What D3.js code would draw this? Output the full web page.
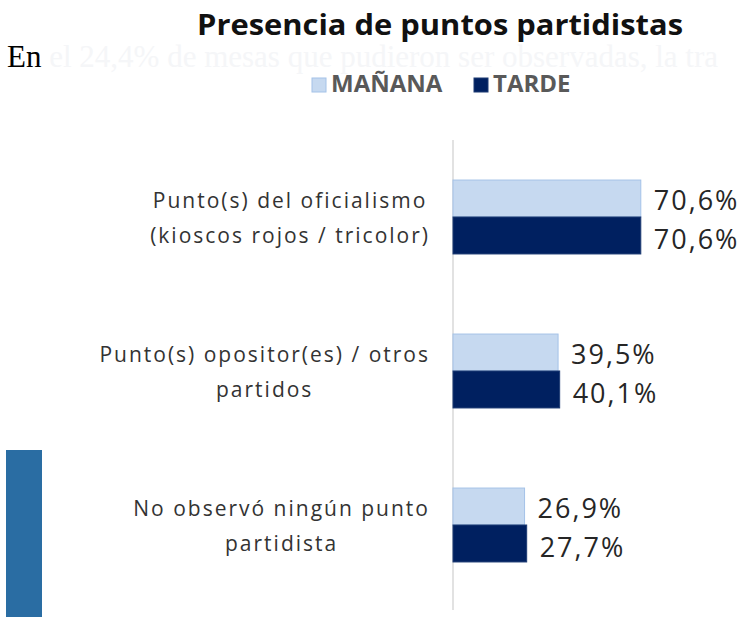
<!DOCTYPE html>
<html>
<head>
<meta charset="utf-8">
<script src="https://cdn.jsdelivr.net/npm/d3@7"></script>
<style>
  html, body { margin: 0; padding: 0; background: #fff; }
  svg { display: block; }
</style>
</head>
<body>
<svg id="chart" width="742" height="617"></svg>
<script>
// Categories, each split into the lines it is printed on
const categories = [
  ["Punto(s) del oficialismo", "(kioscos rojos / tricolor)"],
  ["Punto(s) opositor(es) / otros", "partidos"],
  ["No observó ningún punto", "partidista"]
];
const seriesNames = ["MAÑANA", "TARDE"];
const manana = [70.6, 39.5, 26.9];
const tarde  = [70.6, 40.1, 27.7];
const colors = ["#c6d9f0", "#002060"];
const strokes = ["#a4c2e8", "#1d3b73"];

const fmt = v => d3.format(".1f")(v).replace(".", ",") + "%";

const svg = d3.select("#chart");

// Surrounding page text running across the top
const lead = svg.append("text")
  .attr("x", 7).attr("y", 67)
  .attr("font-family", "Liberation Serif, Times New Roman, serif")
  .attr("font-size", 31);
lead.append("tspan").attr("fill", "#000").text("En ");
lead.append("tspan").attr("fill", "#f5f6f8")
  .text("el 24,4% de mesas que pudieron ser observadas, la tra");

// Side decoration block
svg.append("rect")
  .attr("x", 6).attr("y", 450).attr("width", 36).attr("height", 167)
  .attr("fill", "#2a6da3");

// Title
svg.append("text")
  .attr("x", 197).attr("y", 35)
  .attr("font-family", "Open Sans, sans-serif")
  .attr("font-weight", 700)
  .attr("font-size", 29)
  .attr("textLength", 486)
  .attr("lengthAdjust", "spacingAndGlyphs")
  .attr("fill", "#111")
  .text("Presencia de puntos partidistas");

// Legend
const legend = svg.append("g").attr("font-family", "Open Sans, sans-serif")
  .attr("font-weight", 700).attr("font-size", 24).attr("fill", "#595959");
const legendX = [312, 474];
seriesNames.forEach((name, i) => {
  legend.append("rect")
    .attr("x", legendX[i]).attr("y", 78).attr("width", 14).attr("height", 14)
    .attr("fill", colors[i]).attr("stroke", strokes[i]).attr("stroke-width", 1);
  legend.append("text")
    .attr("x", legendX[i] + 19).attr("y", 92)
    .text(name);
});

// Scales
const x = d3.scaleLinear().domain([0, 100]).range([453, 719]);
const y0 = d3.scaleBand()
  .domain(d3.range(categories.length))
  .range([140, 602])
  .paddingInner(0.52)
  .paddingOuter(0.26);
const y1 = d3.scaleBand().domain([0, 1]).range([0, y0.bandwidth()]);

// Vertical category axis line
svg.append("line")
  .attr("x1", x(0)).attr("x2", x(0))
  .attr("y1", 140).attr("y2", 610)
  .attr("stroke", "#d9d9d9").attr("stroke-width", 1.5);

const series = [manana, tarde];
const groups = svg.append("g").selectAll("g")
  .data(categories.map((c, i) => i))
  .join("g")
  .attr("transform", i => `translate(0,${y0(i)})`);

groups.each(function(ci) {
  const g = d3.select(this);
  series.forEach((vals, si) => {
    g.append("rect")
      .attr("x", x(0))
      .attr("y", y1(si))
      .attr("width", x(vals[ci]) - x(0))
      .attr("height", y1.bandwidth())
      .attr("fill", colors[si])
      .attr("stroke", strokes[si]).attr("stroke-width", 1);
    g.append("text")
      .attr("x", x(vals[ci]) + 13)
      .attr("y", y1(si) + y1.bandwidth() / 2 + (si === 0 ? 1 : 3))
      .attr("dominant-baseline", "central")
      .attr("font-family", "Open Sans, sans-serif")
      .attr("font-size", 27)
      .attr("letter-spacing", 2)
      .attr("fill", "#262626")
      .text(fmt(vals[ci]));
  });
});

// Category labels: lines centered within their block, block right-aligned to the axis
const labelRight = 430;
const lineGap = 35;
categories.forEach((lines, ci) => {
  const cy = y0(ci) + y0.bandwidth() / 2;
  const t = svg.append("g")
    .attr("font-family", "Open Sans, sans-serif")
    .attr("font-size", 21)
    .attr("letter-spacing", 2)
    .attr("fill", "#333");
  const nodes = lines.map((ln, li) => t.append("text")
    .attr("y", cy + (li - (lines.length - 1) / 2) * lineGap)
    .attr("dominant-baseline", "central")
    .attr("text-anchor", "middle")
    .text(ln));
  const maxW = d3.max(nodes, n => n.node().getComputedTextLength());
  nodes.forEach(n => n.attr("x", labelRight - maxW / 2));
});
</script>
</body>
</html>
